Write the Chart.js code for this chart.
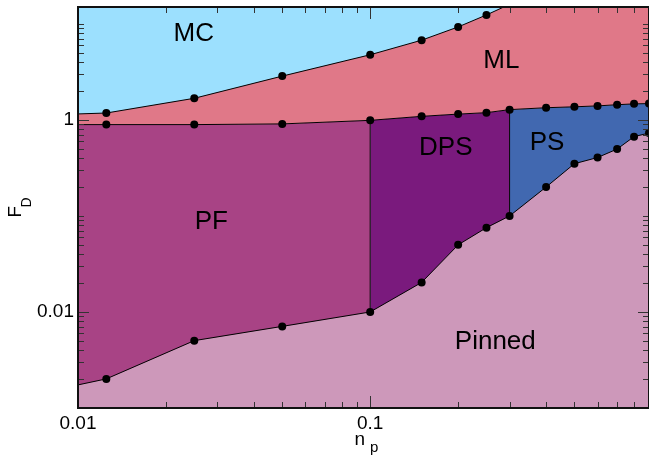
<!DOCTYPE html>
<html>
<head>
<meta charset="utf-8">
<script src="https://cdn.jsdelivr.net/npm/chart.js@4/dist/chart.umd.min.js"></script>
<style>
  html, body { margin: 0; padding: 0; overflow: hidden; background: #fff; }
  #wrap { width: 649px; height: 458px; overflow: hidden; }
</style>
</head>
<body>
<div id="wrap"><canvas id="chart" width="653" height="458"></canvas></div>
<script>
// phase boundaries (n_p, F_D)
const npUpper = [0.01, 0.0125, 0.025, 0.05, 0.1, 0.15, 0.2, 0.25, 0.3];
const fdUpper = [1.155, 1.18, 1.68, 2.86, 4.77, 6.77, 9.3, 12.4, 16];

const npMid = [0.01, 0.0125, 0.025, 0.05, 0.1, 0.15, 0.2, 0.25, 0.3, 0.4, 0.5, 0.6, 0.7, 0.8, 0.9];
const fdMid = [0.894, 0.894, 0.894, 0.909, 0.99, 1.09, 1.15, 1.19, 1.28, 1.34, 1.37, 1.40, 1.44, 1.47, 1.48];

const npLow = [0.01, 0.0125, 0.025, 0.05, 0.1, 0.15, 0.2, 0.25, 0.3, 0.4, 0.5, 0.6, 0.7, 0.8, 0.9];
const fdLow = [0.00174, 0.00201, 0.00503, 0.00708, 0.01, 0.0203, 0.05, 0.0755, 0.1, 0.2, 0.35, 0.406, 0.497, 0.67, 0.73];

// vertical boundaries PF|DPS and DPS|PS
const npPfDps = [0.1, 0.1];
const fdPfDps = [0.01, 0.99];
const npDpsPs = [0.3, 0.3];
const fdDpsPs = [0.1, 1.28];

// phase names and where they sit
const phaseNames = ['MC', 'ML', 'DPS', 'PS', 'PF', 'Pinned'];
const phaseNp = [0.0249, 0.281, 0.1815, 0.403, 0.0286, 0.268];
const phaseFd = [7.8, 4.1, 0.512, 0.577, 0.0873, 0.00483];

// axis labels
const xTickValues = [0.01, 0.1];
const xTickLabels = ['0.01', '0.1'];
const yTickValues = [0.01, 1];
const yTickLabels = ['0.01', '1'];

const C = {
  MC: '#9ce0fe',
  ML: '#e07888',
  PF: '#a84385',
  DPS: '#7a1a7d',
  PS: '#4168b0',
  Pinned: '#cd98ba'
};
const FONT = '"Liberation Sans", Arial, Helvetica, sans-serif';

const pts = (xs, ys) => xs.map((x, i) => ({ x: x, y: ys[i] }));
// no marker at the frame edge or outside the range
const dotR = c => (c.raw.x <= 0.01 || c.raw.y > 15) ? 0 : 4;

const bandColor = c => {
  const x = c.p0.parsed.x;
  if (x < 0.0999) return C.PF;
  if (x < 0.2999) return C.DPS;
  return C.PS;
};

const frame = {
  id: 'frame',
  afterDatasetsDraw(chart) {
    const ctx = chart.ctx;
    const a = chart.chartArea;
    const xs = chart.scales.x, ys = chart.scales.y;
    ctx.save();

    // inward ticks on all four sides
    ctx.strokeStyle = '#333';
    ctx.lineWidth = 1;
    const minor = [1, 2, 3, 4, 5, 6, 7, 8, 9];
    for (let e = -2; e <= 0; e++) {
      minor.forEach(d => {
        const v = d * Math.pow(10, e);
        if (v < xs.min - 1e-9 || v > xs.max + 1e-9) return;
        const px = Math.round(xs.getPixelForValue(v)) + 0.5;
        const len = xTickValues.some(t => Math.abs(t - v) < 1e-9) ? 12 : 6;
        ctx.beginPath();
        ctx.moveTo(px, a.bottom); ctx.lineTo(px, a.bottom - len);
        ctx.moveTo(px, a.top); ctx.lineTo(px, a.top + len);
        ctx.stroke();
      });
    }
    for (let e = -3; e <= 1; e++) {
      minor.forEach(d => {
        const v = d * Math.pow(10, e);
        if (v < ys.min - 1e-9 || v > ys.max + 1e-9) return;
        const py = Math.round(ys.getPixelForValue(v)) + 0.5;
        const len = yTickValues.some(t => Math.abs(t - v) < 1e-9) ? 11 : 6;
        ctx.beginPath();
        ctx.moveTo(a.left, py); ctx.lineTo(a.left + len, py);
        ctx.moveTo(a.right, py); ctx.lineTo(a.right - len, py);
        ctx.stroke();
      });
    }

    // frame
    ctx.strokeStyle = '#111';
    ctx.lineWidth = 2;
    ctx.strokeRect(a.left, a.top, a.right - a.left, a.bottom - a.top);

    // phase names
    ctx.fillStyle = '#000';
    ctx.font = '26px ' + FONT;
    ctx.textAlign = 'center';
    ctx.textBaseline = 'middle';
    phaseNames.forEach((n, i) => {
      ctx.fillText(n, xs.getPixelForValue(phaseNp[i]), ys.getPixelForValue(phaseFd[i]));
    });

    // axis titles with subscripts
    ctx.textAlign = 'left';
    ctx.textBaseline = 'alphabetic';
    const cx = (a.left + a.right) / 2;
    ctx.font = '19px ' + FONT;
    ctx.fillText('n', cx - 9, 445);
    ctx.font = '15px ' + FONT;
    ctx.fillText('p', cx + 6.5, 452);

    const cy = (a.top + a.bottom) / 2;
    ctx.translate(21, cy + 10);
    ctx.rotate(-Math.PI / 2);
    ctx.font = '19px ' + FONT;
    ctx.fillText('F', 0, 0);
    ctx.font = '14px ' + FONT;
    ctx.fillText('D', 10, 10);
    ctx.restore();
  }
};

new Chart(document.getElementById('chart'), {
  type: 'line',
  data: {
    datasets: [
      { // PF / DPS / PS band, below the F_D ~ 1 line
        data: pts(npMid, fdMid), order: 10, fill: 'start',
        backgroundColor: C.PF, borderWidth: 0, pointRadius: 0,
        segment: { backgroundColor: bandColor }
      },
      { // ML above the F_D ~ 1 line
        data: pts(npMid, fdMid), order: 9, fill: 'end',
        backgroundColor: C.ML, borderWidth: 0, pointRadius: 0
      },
      { // pinned
        data: pts(npLow, fdLow), order: 8, fill: 'start',
        backgroundColor: C.Pinned, borderColor: '#000', borderWidth: 1,
        pointRadius: dotR, pointBackgroundColor: '#000', pointBorderWidth: 0
      },
      { // MC
        data: pts(npUpper, fdUpper), order: 7, fill: 'end',
        backgroundColor: C.MC, borderColor: '#000', borderWidth: 1,
        pointRadius: dotR, pointBackgroundColor: '#000', pointBorderWidth: 0
      },
      {
        data: pts(npMid, fdMid), order: 6, fill: false,
        borderColor: '#000', borderWidth: 1,
        pointRadius: dotR, pointBackgroundColor: '#000', pointBorderWidth: 0
      },
      {
        data: pts(npPfDps, fdPfDps), order: 5, fill: false,
        borderColor: '#000', borderWidth: 1, pointRadius: 0
      },
      {
        data: pts(npDpsPs, fdDpsPs), order: 5, fill: false,
        borderColor: '#000', borderWidth: 1, pointRadius: 0
      }
    ]
  },
  options: {
    responsive: false,
    animation: false,
    events: [],
    layout: { padding: { top: 7, right: 2, left: 0, bottom: 0 } },
    plugins: { legend: { display: false }, tooltip: { enabled: false } },
    elements: { line: { tension: 0 } },
    scales: {
      x: {
        type: 'logarithmic', min: 0.01, max: 0.9,
        grid: { display: false, drawTicks: false },
        border: { display: false },
        afterBuildTicks: s => { s.ticks = xTickValues.map(v => ({ value: v })); },
        afterFit: s => { s.height = 50; s.paddingLeft = 0; s.paddingRight = 0; },
        ticks: {
          autoSkip: false, maxRotation: 0, padding: 4,
          color: '#000', font: { family: FONT, size: 19 },
          callback: (v, i) => xTickLabels[i]
        }
      },
      y: {
        type: 'logarithmic', min: 0.001, max: 15,
        grid: { display: false, drawTicks: false },
        border: { display: false },
        afterBuildTicks: s => { s.ticks = yTickValues.map(v => ({ value: v })); },
        afterFit: s => { s.width = 78; s.paddingTop = 0; s.paddingBottom = 0; },
        ticks: {
          autoSkip: false, padding: 4,
          color: '#000', font: { family: FONT, size: 19 },
          callback: (v, i) => yTickLabels[i]
        }
      }
    }
  },
  plugins: [frame]
});
</script>
</body>
</html>
